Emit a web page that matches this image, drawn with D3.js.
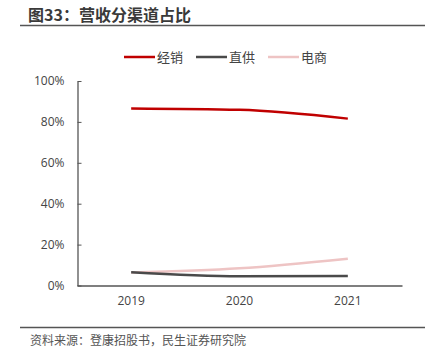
<!DOCTYPE html>
<html>
<head>
<meta charset="utf-8">
<script src="https://cdn.jsdelivr.net/npm/d3@7"></script>
<style>
  body { margin: 0; background: #fff; }
  svg { font-family: "Noto Sans CJK SC", "Noto Sans", sans-serif; }
</style>
</head>
<body>
<div class="chart"></div>
<script>
// data (share of revenue, %)
var years = ['2019', '2020', '2021'];
var jingxiao = [86.6, 85.9, 81.6];   // 经销
var zhigong = [6.5, 4.5, 4.7];       // 直供
var dianshang = [6.3, 8.4, 13.1];    // 电商
var yTicks = [0, 20, 40, 60, 80, 100];

var series = [
  {name: '经销', values: jingxiao, color: '#c00000'},
  {name: '直供', values: zhigong, color: '#4a4a4a'},
  {name: '电商', values: dianshang, color: '#eec4c4'}
];

var W = 425, H = 351;
var svg = d3.select('.chart').append('svg')
    .attr('width', W)
    .attr('height', H);

// title + rules
svg.append('text')
    .attr('x', 28).attr('y', 21)
    .text('图33：营收分渠道占比')
    .style('font-size', '16px')
    .style('font-weight', 'bold')
    .attr('fill', '#3a3a3a');
svg.append('line')
    .attr('x1', 20).attr('x2', 425).attr('y1', 25.5).attr('y2', 25.5)
    .attr('stroke', '#555').attr('stroke-width', 1.5);
svg.append('line')
    .attr('x1', 20).attr('x2', 425).attr('y1', 327.5).attr('y2', 327.5)
    .attr('stroke', '#555').attr('stroke-width', 1.5);
svg.append('text')
    .attr('x', 30).attr('y', 345)
    .text('资料来源：登康招股书，民生证券研究院')
    .style('font-size', '12px')
    .attr('fill', '#555');

var x = d3.scaleBand().domain(years).range([77, 402]);
var y = d3.scaleLinear().domain([0, 100]).range([285.5, 81]);

var yAxis = d3.axisLeft(y).tickValues(yTicks)
    .tickFormat(function (d) { return d + '%'; })
    .tickSizeInner(-4).tickSizeOuter(0).tickPadding(13);
var gy = svg.append('g').attr('transform', 'translate(77.5,0)').call(yAxis);

var xAxis = d3.axisBottom(x).tickSize(0).tickPadding(11);
var gx = svg.append('g').attr('transform', 'translate(0,285.5)').call(xAxis);

[gy, gx].forEach(function (g) {
  g.select('.domain').attr('stroke', '#555').attr('stroke-width', 1.3);
  g.selectAll('.tick line').attr('stroke', '#555');
  g.selectAll('text')
      .style('font-size', '12px')
      .attr('fill', '#444')
      .style('font-family', '"Open Sans", "Noto Sans", sans-serif');
});

var line = d3.line()
    .x(function (d, i) { return x(years[i]) + x.bandwidth() / 2; })
    .y(function (d) { return y(d); })
    .curve(d3.curveMonotoneX);

svg.selectAll('path.series')
    .data(series.slice().reverse())
    .enter()
    .append('path')
    .attr('class', 'series')
    .attr('fill', 'none')
    .attr('stroke', function (d) { return d.color; })
    .attr('stroke-width', 2.5)
    .attr('d', function (d) { return line(d.values); });

// legend
var legend = svg.selectAll('g.legend')
    .data(series)
    .enter()
    .append('g')
    .attr('class', 'legend')
    .attr('transform', function (d, i) { return 'translate(' + (124 + i * 72) + ',57)'; });
legend.append('line')
    .attr('x1', 0).attr('x2', 31)
    .attr('stroke', function (d) { return d.color; })
    .attr('stroke-width', 2.5);
legend.append('text')
    .attr('x', 33).attr('y', 4.5)
    .text(function (d) { return d.name; })
    .style('font-size', '13px')
    .attr('fill', '#444');
</script>
</body>
</html>
